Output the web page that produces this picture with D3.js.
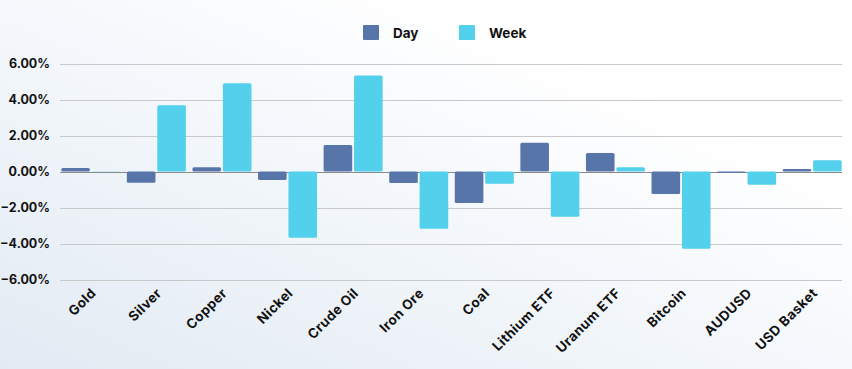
<!DOCTYPE html>
<meta charset="utf-8">
<script src="https://cdn.jsdelivr.net/npm/d3@7"></script>
<style>
body { margin: 0; }
svg { display: block; font-family: "Inter", "Open Sans", sans-serif; }
.tick-y, .tick-x, .legend-label { font-weight: 700; fill: #111; }
.tick-y { font-size: 12.5px; text-anchor: end; }
.tick-x { font-size: 13.5px; text-anchor: end; letter-spacing: 0.4px; }
.legend-label { font-size: 13.5px; }
</style>
<div id="vis"></div>
<script>

// chart data
var categories = ["Gold", "Silver", "Copper", "Nickel", "Crude Oil", "Iron Ore", "Coal",
                  "Lithium ETF", "Uranum ETF", "Bitcoin", "AUDUSD", "USD Basket"];
var dayValues  = [0.19, -0.62, 0.23, -0.47, 1.47, -0.64, -1.75, 1.60, 1.03, -1.25, -0.07, 0.14];
var weekValues = [0.01, 3.68, 4.90, -3.68, 5.34, -3.18, -0.68, -2.51, 0.23, -4.29, -0.73, 0.62];
var seriesNames = ["Day", "Week"];
var yTicks = [6, 4, 2, 0, -2, -4, -6];

var colors = {Day: "#5875aa", Week: "#53d0eb"};

var w = 852, h = 369;

var svg = d3.select("#vis").append("svg")
    .attr("width", w)
    .attr("height", h);

// background gradient
var defs = svg.append("defs");
var grad = defs.append("linearGradient")
    .attr("id", "bg")
    .attr("x1", "0").attr("y1", "1").attr("x2", "1").attr("y2", "0");
grad.append("stop").attr("offset", "0%").attr("stop-color", "#e2eaf3");
grad.append("stop").attr("offset", "45%").attr("stop-color", "#f3f7fb");
grad.append("stop").attr("offset", "75%").attr("stop-color", "#ffffff");
grad.append("stop").attr("offset", "100%").attr("stop-color", "#ffffff");

svg.append("rect")
    .attr("width", w)
    .attr("height", h)
    .attr("fill", "url(#bg)");

// scales
var y = d3.scaleLinear()
    .domain([-6, 6])
    .range([279.5, 63.5]);

var x0 = d3.scaleBand()
    .domain(categories)
    .range([58, 845])
    .paddingInner(0.1)
    .paddingOuter(0.05);

var x1 = d3.scaleBand()
    .domain(seriesNames)
    .range([0, x0.bandwidth()])
    .paddingInner(0.06);

// gridlines
svg.append("g").selectAll("line")
    .data(yTicks)
  .enter().append("line")
    .attr("x1", 60)
    .attr("x2", 842)
    .attr("y1", function(d) { return Math.round(y(d)) + 0.5; })
    .attr("y2", function(d) { return Math.round(y(d)) + 0.5; })
    .attr("stroke", function(d) { return d === 0 ? "#8a8a8a" : "#c9c9c9"; })
    .attr("stroke-width", 1);

// y tick labels
svg.append("g").selectAll("text")
    .data(yTicks)
  .enter().append("text")
    .attr("class", "tick-y")
    .attr("x", 50)
    .attr("y", function(d) { return y(d) + 4.5; })
    .text(function(d) { return d3.format(".2f")(d) + "%"; });

// bars
var rows = categories.map(function(c, i) {
  return {name: c, Day: dayValues[i], Week: weekValues[i]};
});

var groups = svg.append("g").selectAll("g")
    .data(rows)
  .enter().append("g")
    .attr("transform", function(d) { return "translate(" + x0(d.name) + ",0)"; });

groups.selectAll("rect")
    .data(function(d) { return seriesNames.map(function(s) { return {key: s, value: d[s]}; }); })
  .enter().append("rect")
    .attr("x", function(d) { return x1(d.key); })
    .attr("y", function(d) { return y(Math.max(0, d.value)); })
    .attr("width", x1.bandwidth())
    .attr("height", function(d) { return Math.abs(y(d.value) - y(0)); })
    .attr("rx", 1.5)
    .attr("fill", function(d) { return colors[d.key]; });

// x labels
svg.append("g").selectAll("text")
    .data(categories)
  .enter().append("text")
    .attr("class", "tick-x")
    .attr("transform", function(d) {
      return "translate(" + (x0(d) + x0.bandwidth() / 2 + 6) + ",294) rotate(-45)";
    })
    .text(function(d) { return d; });

// legend
var legend = svg.append("g").selectAll("g")
    .data(seriesNames)
  .enter().append("g")
    .attr("transform", function(d, i) { return "translate(" + (363 + i * 96) + ",25)"; });

legend.append("rect")
    .attr("width", 16)
    .attr("height", 15)
    .attr("rx", 1)
    .attr("fill", function(d) { return colors[d]; });

legend.append("text")
    .attr("class", "legend-label")
    .attr("x", 30)
    .attr("y", 12.5)
    .text(function(d) { return d; });

</script>
